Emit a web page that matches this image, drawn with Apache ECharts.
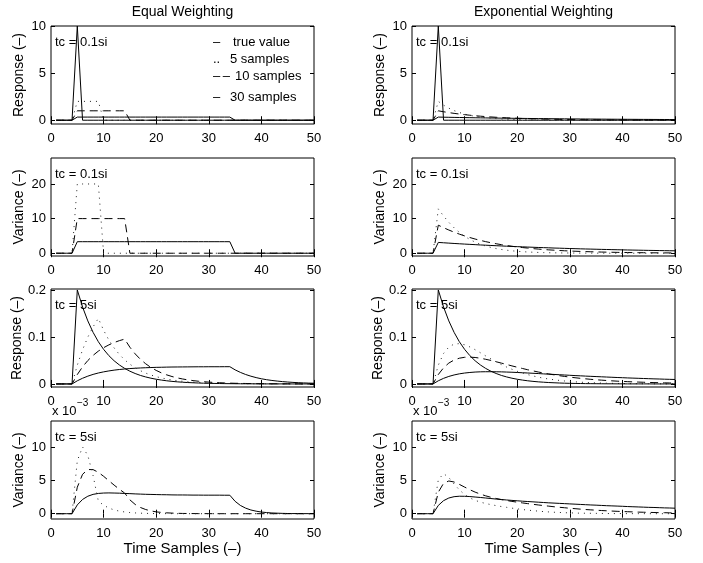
<!DOCTYPE html>
<html><head><meta charset="utf-8">
<script src="https://cdn.jsdelivr.net/npm/echarts@6/dist/echarts.min.js"></script>
<style>html,body{margin:0;padding:0;background:#fff}#c{width:703px;height:563px}</style>
</head><body><div id="c"></div>
<script>
// ---- sample axis ----
const samples = [1,2,3,4,5,6,7,8,9,10,11,12,13,14,15,16,17,18,19,20,21,22,23,24,25,26,27,28,29,30,31,32,33,34,35,36,37,38,39,40,41,42,43,44,45,46,47,48,49,50];
const xTicks = [0,10,20,30,40,50];

// ---- tc = 0.1si : response ----
const trueA = [0,0,0,0,10,0,0,0,0,0, 0,0,0,0,0,0,0,0,0,0, 0,0,0,0,0,0,0,0,0,0, 0,0,0,0,0,0,0,0,0,0, 0,0,0,0,0,0,0,0,0,0];
const eqR5A = [0,0,0,0,2,2,2,2,2,0, 0,0,0,0,0,0,0,0,0,0, 0,0,0,0,0,0,0,0,0,0, 0,0,0,0,0,0,0,0,0,0, 0,0,0,0,0,0,0,0,0,0];
const eqR10A = [0,0,0,0,1,1,1,1,1,1, 1,1,1,1,0,0,0,0,0,0, 0,0,0,0,0,0,0,0,0,0, 0,0,0,0,0,0,0,0,0,0, 0,0,0,0,0,0,0,0,0,0];
const eqR30A = [0,0,0,0,0.333,0.333,0.333,0.333,0.333,0.333, 0.333,0.333,0.333,0.333,0.333,0.333,0.333,0.333,0.333,0.333, 0.333,0.333,0.333,0.333,0.333,0.333,0.333,0.333,0.333,0.333, 0.333,0.333,0.333,0.333,0,0,0,0,0,0, 0,0,0,0,0,0,0,0,0,0];
const exR5A = [0,0,0,0,2.0,1.6,1.28,1.024,0.819,0.655, 0.524,0.419,0.336,0.268,0.215,0.172,0.137,0.110,0.088,0.070, 0.056,0.045,0.036,0.029,0.023,0.018,0.015,0.012,0.009,0.008, 0.006,0.005,0.004,0.003,0.002,0.002,0.001,0.001,0.001,0.001, 0,0,0,0,0,0,0,0,0,0];
const exR10A = [0,0,0,0,1.0,0.9,0.81,0.729,0.656,0.590, 0.531,0.478,0.430,0.387,0.349,0.314,0.282,0.254,0.229,0.206, 0.185,0.167,0.150,0.135,0.122,0.109,0.098,0.089,0.080,0.072, 0.065,0.058,0.052,0.047,0.042,0.038,0.034,0.031,0.028,0.025, 0.023,0.020,0.018,0.016,0.015,0.013,0.012,0.011,0.010,0.009];
const exR30A = [0,0,0,0,0.333,0.322,0.311,0.301,0.291,0.281, 0.272,0.263,0.254,0.246,0.237,0.229,0.222,0.214,0.207,0.200, 0.194,0.187,0.181,0.175,0.169,0.164,0.158,0.153,0.148,0.143, 0.138,0.133,0.129,0.125,0.121,0.117,0.113,0.109,0.105,0.102, 0.098,0.095,0.092,0.089,0.086,0.083,0.080,0.078,0.075,0.072];

// ---- tc = 0.1si : variance ----
const eqV5B = [0,0,0,0,20,20,20,20,20,0, 0,0,0,0,0,0,0,0,0,0, 0,0,0,0,0,0,0,0,0,0, 0,0,0,0,0,0,0,0,0,0, 0,0,0,0,0,0,0,0,0,0];
const eqV10B = [0,0,0,0,10,10,10,10,10,10, 10,10,10,10,0,0,0,0,0,0, 0,0,0,0,0,0,0,0,0,0, 0,0,0,0,0,0,0,0,0,0, 0,0,0,0,0,0,0,0,0,0];
const eqV30B = [0,0,0,0,3.33,3.33,3.33,3.33,3.33,3.33, 3.33,3.33,3.33,3.33,3.33,3.33,3.33,3.33,3.33,3.33, 3.33,3.33,3.33,3.33,3.33,3.33,3.33,3.33,3.33,3.33, 3.33,3.33,3.33,3.33,0,0,0,0,0,0, 0,0,0,0,0,0,0,0,0,0];
const exV5B = [0,0,0,0,12.8,10.75,8.93,7.35,6.02,4.90, 3.97,3.21,2.59,2.09,1.68,1.35,1.09,0.87,0.70,0.56, 0.45,0.36,0.29,0.23,0.18,0.15,0.12,0.09,0.08,0.06, 0.05,0.04,0.03,0.03,0.02,0.02,0.01,0.01,0.01,0.01, 0.01,0,0,0,0,0,0,0,0,0];
const exV10B = [0,0,0,0,8.10,7.37,6.70,6.08,5.52,5.00, 4.53,4.10,3.71,3.35,3.03,2.74,2.47,2.23,2.01,1.82, 1.64,1.48,1.33,1.20,1.08,0.97,0.88,0.79,0.71,0.64, 0.58,0.52,0.47,0.42,0.38,0.34,0.31,0.28,0.25,0.22, 0.20,0.18,0.16,0.15,0.13,0.12,0.11,0.10,0.09,0.08];
const exV30B = [0,0,0,0,3.12,3.02,2.92,2.82,2.73,2.64, 2.56,2.48,2.39,2.32,2.24,2.17,2.10,2.03,1.96,1.90, 1.84,1.78,1.72,1.66,1.61,1.56,1.50,1.46,1.41,1.36, 1.32,1.27,1.23,1.19,1.15,1.11,1.08,1.04,1.01,0.97, 0.94,0.91,0.88,0.85,0.82,0.80,0.77,0.74,0.72,0.70];

// ---- tc = 5si : response ----
const trueC = [0,0,0,0,0.2,0.1637,0.1341,0.1098,0.0899,0.0736, 0.0602,0.0493,0.0404,0.0331,0.0271,0.0222,0.0181,0.0149,0.0122,0.0100, 0.0082,0.0067,0.0055,0.0045,0.0037,0.0030,0.0025,0.0020,0.0016,0.0013, 0.0011,0.0009,0.0007,0.0006,0.0005,0.0004,0.0003,0.0003,0.0002,0.0002, 0.0001,0.0001,0.0001,0.0001,0.0001,0,0,0,0,0];
const eqR5C = [0,0,0,0,0.04,0.0727,0.0996,0.1215,0.1395,0.1142, 0.0935,0.0766,0.0627,0.0513,0.0420,0.0344,0.0282,0.0231,0.0189,0.0155, 0.0127,0.0104,0.0085,0.0069,0.0057,0.0047,0.0038,0.0031,0.0025,0.0021, 0.0017,0.0014,0.0011,0.0009,0.0008,0.0006,0.0005,0.0004,0.0003,0.0003, 0.0002,0.0002,0.0001,0.0001,0.0001,0.0001,0.0001,0,0,0];
const eqR10C = [0,0,0,0,0.02,0.0364,0.0498,0.0608,0.0698,0.0771, 0.0831,0.0881,0.0921,0.0954,0.0781,0.0640,0.0524,0.0429,0.0351,0.0288, 0.0235,0.0193,0.0158,0.0129,0.0106,0.0087,0.0071,0.0058,0.0048,0.0039, 0.0032,0.0026,0.0021,0.0017,0.0014,0.0012,0.0010,0.0008,0.0006,0.0005, 0.0004,0.0003,0.0003,0.0002,0.0002,0.0002,0.0001,0.0001,0.0001,0.0001];
const eqR30C = [0,0,0,0,0.0067,0.0121,0.0166,0.0203,0.0233,0.0257, 0.0277,0.0294,0.0307,0.0318,0.0327,0.0334,0.0340,0.0345,0.0349,0.0353, 0.0355,0.0358,0.0360,0.0361,0.0362,0.0363,0.0364,0.0365,0.0365,0.0366, 0.0366,0.0366,0.0367,0.0367,0.0300,0.0246,0.0201,0.0165,0.0135,0.0110, 0.0090,0.0074,0.0061,0.0050,0.0041,0.0033,0.0027,0.0022,0.0018,0.0015];
const exR5C = [0,0,0,0,0.0400,0.0648,0.0786,0.0848,0.0858,0.0834, 0.0788,0.0729,0.0664,0.0597,0.0532,0.0470,0.0412,0.0359,0.0312,0.0269, 0.0232,0.0199,0.0170,0.0145,0.0123,0.0105,0.0089,0.0075,0.0063,0.0053, 0.0045,0.0038,0.0032,0.0027,0.0022,0.0019,0.0016,0.0013,0.0011,0.0009, 0.0008,0.0006,0.0005,0.0004,0.0004,0.0003,0.0003,0.0002,0.0002,0.0001];
const exR10C = [0,0,0,0,0.0200,0.0344,0.0444,0.0509,0.0548,0.0567, 0.0570,0.0563,0.0547,0.0525,0.0500,0.0472,0.0443,0.0414,0.0384,0.0356, 0.0329,0.0302,0.0278,0.0254,0.0233,0.0212,0.0194,0.0176,0.0160,0.0146, 0.0132,0.0120,0.0109,0.0098,0.0089,0.0081,0.0073,0.0066,0.0059,0.0054, 0.0049,0.0044,0.0040,0.0036,0.0032,0.0029,0.0026,0.0023,0.0021,0.0019];
const exR30C = [0,0,0,0,0.0067,0.0119,0.0160,0.0191,0.0215,0.0232, 0.0244,0.0253,0.0258,0.0260,0.0260,0.0259,0.0257,0.0253,0.0249,0.0244, 0.0238,0.0233,0.0227,0.0221,0.0214,0.0208,0.0202,0.0196,0.0190,0.0184, 0.0178,0.0173,0.0167,0.0162,0.0157,0.0152,0.0147,0.0142,0.0137,0.0133, 0.0128,0.0124,0.0120,0.0116,0.0112,0.0108,0.0105,0.0101,0.0098,0.0095];

// ---- tc = 5si : variance (in units of 1e-3) ----
const eqV5D = [0,0,0,0,8.0,10.08,8.80,5.75,1.91,1.28, 0.86,0.57,0.39,0.26,0.17,0.12,0.08,0.05,0.03,0.02, 0.02,0.01,0.01,0,0,0,0,0,0,0, 0,0,0,0,0,0,0,0,0,0, 0,0,0,0,0,0,0,0,0,0];
const eqV10D = [0,0,0,0,4.00,5.95,6.67,6.66,6.25,5.65, 4.98,4.32,3.69,3.12,2.09,1.40,0.94,0.63,0.42,0.28, 0.19,0.13,0.09,0.06,0.04,0.03,0.02,0.01,0.01,0.01, 0,0,0,0,0,0,0,0,0,0, 0,0,0,0,0,0,0,0,0,0];
const eqV30D = [0,0,0,0,1.33,2.15,2.64,2.92,3.06,3.12, 3.14,3.12,3.10,3.06,3.03,2.99,2.96,2.93,2.91,2.89, 2.87,2.86,2.84,2.83,2.83,2.82,2.81,2.81,2.80,2.80, 2.80,2.80,2.79,2.79,1.87,1.25,0.84,0.56,0.38,0.25, 0.17,0.11,0.08,0.05,0.03,0.02,0.02,0.01,0.01,0.01];
const exV5D = [0,0,0,0,5.12,6.06,5.46,4.49,3.60,2.90, 2.39,2.02,1.75,1.54,1.37,1.22,1.08,0.96,0.84,0.73, 0.63,0.54,0.46,0.39,0.32,0.27,0.22,0.19,0.15,0.13, 0.10,0.08,0.07,0.06,0.05,0.04,0.03,0.02,0.02,0.02, 0.01,0.01,0.01,0.01,0,0,0,0,0,0];
const exV10D = [0,0,0,0,3.24,4.59,4.94,4.79,4.43,4.02, 3.62,3.26,2.96,2.70,2.48,2.30,2.13,1.99,1.86,1.74, 1.63,1.52,1.42,1.32,1.23,1.14,1.05,0.97,0.90,0.82, 0.76,0.69,0.63,0.58,0.53,0.48,0.44,0.40,0.36,0.33, 0.30,0.27,0.24,0.22,0.20,0.18,0.16,0.15,0.13,0.12];
const exV30D = [0,0,0,0,1.25,1.97,2.37,2.57,2.64,2.63, 2.59,2.52,2.45,2.37,2.29,2.21,2.14,2.07,2.01,1.95, 1.89,1.84,1.79,1.74,1.69,1.64,1.60,1.56,1.52,1.48, 1.44,1.40,1.36,1.32,1.29,1.25,1.21,1.18,1.15,1.12, 1.08,1.05,1.02,0.99,0.96,0.94,0.91,0.88,0.86,0.83];

// ---- tick labels ----
const yTicksResp01 = [0,5,10];
const yTicksVar01 = [0,10,20];
const yTicksResp5 = [0,0.1,0.2];
const yTicksVar5 = [0,5,10];

const columnTitles = ['Equal Weighting', 'Exponential Weighting'];
const legendLabels = ['true value', '5 samples', '10 samples', '30 samples'];

// ---- layout ----
const FONT = '"Liberation Sans", Arial, Helvetica, sans-serif';
const colLeft = [51, 412], plotW = 263, plotH = 98;
const rowTop = [26, 158, 289, 421];
const STY = {solid: 'solid', dot: [1, 5], dash: [8, 5]};

const rows = [
  {yMin: -0.4, yMax: 10, ticks: yTicksResp01, name: 'Response (\u2013)', tc: 'tc = 0.1si',
   cols: [[[eqR30A,'solid'],[eqR10A,'dash'],[eqR5A,'dot'],[trueA,'solid']],
          [[exR30A,'solid'],[exR10A,'dash'],[exR5A,'dot'],[trueA,'solid']]]},
  {yMin: -0.8, yMax: 27.5, ticks: yTicksVar01, name: 'Variance (\u2013)', tc: 'tc = 0.1si',
   cols: [[[eqV30B,'solid'],[eqV10B,'dash'],[eqV5B,'dot']],
          [[exV30B,'solid'],[exV10B,'dash'],[exV5B,'dot']]]},
  {yMin: -0.0065, yMax: 0.202, ticks: yTicksResp5, name: 'Response (\u2013)', tc: 'tc = 5si',
   cols: [[[eqR30C,'solid'],[eqR10C,'dash'],[eqR5C,'dot'],[trueC,'solid']],
          [[exR30C,'solid'],[exR10C,'dash'],[exR5C,'dot'],[trueC,'solid']]]},
  {yMin: -0.8, yMax: 14, ticks: yTicksVar5, name: 'Variance (\u2013)', tc: 'tc = 5si',
   cols: [[[eqV30D,'solid'],[eqV10D,'dash'],[eqV5D,'dot']],
          [[exV30D,'solid'],[exV10D,'dash'],[exV5D,'dot']]]}
];

const grid = [], xAxis = [], yAxis = [], series = [], graphic = [];
const lab = {color: '#000', fontFamily: FONT, fontSize: 13};
let g = 0;
rows.forEach((row, r) => {
  [0, 1].forEach(c => {
    grid.push({left: colLeft[c], top: rowTop[r], width: plotW, height: plotH,
      show: true, borderColor: '#000', borderWidth: 1, backgroundColor: 'transparent'});
    const tick = {show: true, inside: true, length: 4, lineStyle: {color: '#000', width: 1}};
    xAxis.push({type: 'value', gridIndex: g, position: 'bottom', min: 0, max: 50, interval: 10,
      axisLine: {show: false}, axisTick: tick, splitLine: {show: false},
      axisLabel: Object.assign({margin: 8}, lab),
      name: r === 3 ? 'Time Samples (\u2013)' : '', nameLocation: 'middle', nameGap: 22,
      nameTextStyle: {color: '#000', fontFamily: FONT, fontSize: 15}});
    xAxis.push({type: 'value', gridIndex: g, position: 'top', min: 0, max: 50, interval: 10,
      axisLine: {show: false}, axisTick: tick, splitLine: {show: false}, axisLabel: {show: false}});
    yAxis.push({type: 'value', gridIndex: g, position: 'left', min: row.yMin, max: row.yMax,
      axisLine: {show: false, onZero: false},
      axisTick: Object.assign({customValues: row.ticks}, tick), splitLine: {show: false},
      axisLabel: Object.assign({margin: 5, customValues: row.ticks}, lab),
      name: row.name, nameLocation: 'middle', nameGap: 25,
      nameTextStyle: {color: '#000', fontFamily: FONT, fontSize: 14}});
    yAxis.push({type: 'value', gridIndex: g, position: 'right', min: row.yMin, max: row.yMax,
      axisLine: {show: false, onZero: false},
      axisTick: Object.assign({customValues: row.ticks}, tick), splitLine: {show: false},
      axisLabel: {show: false}});
    row.cols[c].forEach(([arr, sty]) => {
      series.push({type: 'line', xAxisIndex: 2 * g, yAxisIndex: 2 * g,
        data: samples.map((x, i) => [x, arr[i]]),
        showSymbol: false, symbol: 'none', silent: true, clip: true,
        lineStyle: {color: sty === 'dot' ? '#222' : '#000', width: 1, type: STY[sty]}});
    });
    graphic.push({type: 'text', x: colLeft[c] + 4, y: rowTop[r] + 16,
      style: {text: row.tc, fill: '#000', font: '13px ' + FONT, textVerticalAlign: 'middle'}});
    g++;
  });
});

// column titles
columnTitles.forEach((t, c) => graphic.push({type: 'text', x: colLeft[c] + plotW / 2, y: 12,
  style: {text: t, fill: '#000', font: '14px ' + FONT, textAlign: 'center', textVerticalAlign: 'middle'}}));

// exponent labels for the variance (tc = 5si) panels
[0, 1].forEach(c => {
  graphic.push({type: 'text', x: colLeft[c] + 1, y: 411,
    style: {text: 'x 10', fill: '#000', font: '13px ' + FONT, textVerticalAlign: 'middle'}});
  graphic.push({type: 'text', x: colLeft[c] + 26, y: 403,
    style: {text: '\u22123', fill: '#000', font: '10px ' + FONT, textVerticalAlign: 'middle'}});
});

// legend (first panel)
const legendMarks = ['\u2013', '..', '\u2013\u2009\u2013', '\u2013'];
const legendY = [42, 59, 76, 97];
const legendTextX = [233, 230, 235, 230];
legendLabels.forEach((t, i) => {
  graphic.push({type: 'text', x: 213, y: legendY[i],
    style: {text: legendMarks[i], fill: '#000', font: '13px ' + FONT, textVerticalAlign: 'middle'}});
  graphic.push({type: 'text', x: legendTextX[i], y: legendY[i],
    style: {text: t, fill: '#000', font: '13px ' + FONT, textVerticalAlign: 'middle'}});
});

const chart = echarts.init(document.getElementById('c'), null, {renderer: 'canvas'});
chart.setOption({animation: false, backgroundColor: '#fff', grid, xAxis, yAxis, series, graphic});
</script></body></html>
